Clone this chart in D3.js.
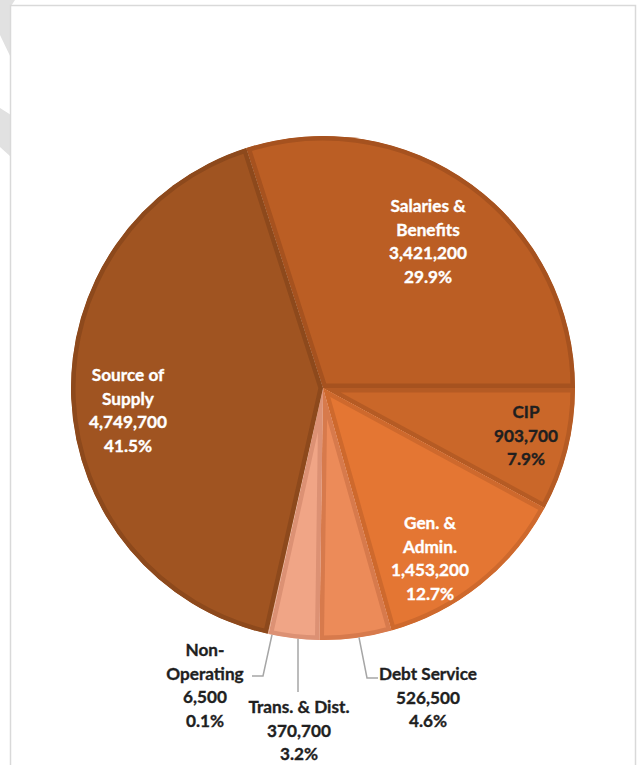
<!DOCTYPE html>
<html>
<head>
<meta charset="utf-8">
<script src="https://cdn.jsdelivr.net/npm/d3@7/dist/d3.min.js"></script>
<style>
  html, body { margin: 0; padding: 0; background: #ffffff; }
  svg { display: block; }
  text { font-family: Lato, "Open Sans", "DejaVu Sans", sans-serif; font-weight: bold; }
</style>
</head>
<body>
<svg id="chart" width="637" height="765"></svg>
<script>
// Operating budget by expense category, clockwise from the Salaries slice
const categories = ["Salaries & Benefits", "CIP", "Gen. & Admin.", "Debt Service",
                    "Trans. & Dist.", "Non-Operating", "Source of Supply"];
const amounts = [3421200, 903700, 1453200, 526500, 370700, 6500, 4749700];
const percentLabels = ["29.9%", "7.9%", "12.7%", "4.6%", "3.2%", "0.1%", "41.5%"];
// label lines as shown for each category
const nameLines = [["Salaries &", "Benefits"], ["CIP"], ["Gen. &", "Admin."], ["Debt Service"],
                   ["Trans. & Dist."], ["Non-", "Operating"], ["Source of", "Supply"]];

// fill / border colours for each slice
const fills   = ["#bb5e24", "#ca6729", "#e47633", "#ec8b59", "#f0a586", "#f3b79c", "#a05421"];
const borders = ["#a6521f", "#b55b24", "#ce692d", "#d77a4c", "#dc9174", "#e1a488", "#8d491c"];
const textColors = ["#ffffff", "#1f1f1f", "#ffffff", "#1f1f1f", "#1f1f1f", "#1f1f1f", "#ffffff"];

// label layout: centre x, first-line y, optional leader (rim x, elbow, end)
const labelLayout = [
  { x: 428, y: 206 },
  { x: 526, y: 412 },
  { x: 430, y: 523 },
  { x: 428, y: 674, rimX: 359, elbow: [367, 678], end: [378, 678] },
  { x: 299, y: 707, rimX: 298, elbow: [298, 665], end: [298, 692] },
  { x: 205, y: 650, rimX: 272, elbow: [263, 676], end: [252, 676] },
  { x: 128, y: 375 }
];

const svg = d3.select("#chart");
const W = 637, H = 765;
const cx = 323, cy = 388, R = 252;
const lineH = 23.5;
const fmt = d3.format(",");

// window frame and the grey page edge behind it
svg.append("polygon").attr("points", "0,0 15,0 11,6 11,58 0,35").attr("fill", "#e1e1e1");
svg.append("polygon").attr("points", "0,108 11,115 11,157 0,147").attr("fill", "#e1e1e1");
svg.append("rect").attr("x", 10.5).attr("y", 5.5).attr("width", 625).attr("height", H)
  .attr("fill", "#ffffff").attr("stroke", "#d9d9d9").attr("stroke-width", 1.5);

const rotation = -17.74 * Math.PI / 180;
const pie = d3.pie().sort(null).value(d => d)
  .startAngle(rotation).endAngle(rotation + 2 * Math.PI);
const arcs = pie(amounts);
const arc = d3.arc().innerRadius(0).outerRadius(R);

const g = svg.append("g").attr("transform", `translate(${cx},${cy})`);
const defs = svg.append("defs");

arcs.forEach((a, i) => {
  const id = "slice-clip-" + i;
  defs.append("clipPath").attr("id", id).append("path").attr("d", arc(a));
  g.append("path")
    .attr("d", arc(a))
    .attr("fill", fills[i])
    .attr("stroke", borders[i])
    .attr("stroke-width", 9)
    .attr("stroke-linejoin", "miter")
    .attr("clip-path", `url(#${id})`);
});

// leader lines for the narrow bottom slices: start on the rim at rimX when that
// point lies inside the slice, else at the slice's mid-angle
const rimStart = (a, x) => {
  let ang = Math.PI - Math.asin(Math.max(-1, Math.min(1, (x - cx) / R)));
  if (ang < a.startAngle - 0.02 || ang > a.endAngle + 0.02) ang = (a.startAngle + a.endAngle) / 2;
  return [cx + R * Math.sin(ang), cy - R * Math.cos(ang)];
};
arcs.forEach((a, i) => {
  const L = labelLayout[i];
  if (!L.elbow) return;
  svg.append("path")
    .attr("d", d3.line()([rimStart(a, L.rimX), L.elbow, L.end]))
    .attr("fill", "none")
    .attr("stroke", "#a6a6a6")
    .attr("stroke-width", 1.5);
});

// data labels: name, amount, percentage
arcs.forEach((a, i) => {
  const L = labelLayout[i];
  const lines = nameLines[i].concat([fmt(amounts[i]), percentLabels[i]]);
  const t = svg.append("text")
    .attr("text-anchor", "middle")
    .attr("fill", textColors[i])
    .attr("stroke", textColors[i])
    .attr("stroke-width", 0.35)
    .attr("font-size", 17.2);
  lines.forEach((s, k) => {
    t.append("tspan").attr("x", L.x).attr("y", L.y + k * lineH).attr("dy", "0.35em").text(s);
  });
});
</script>
</body>
</html>
